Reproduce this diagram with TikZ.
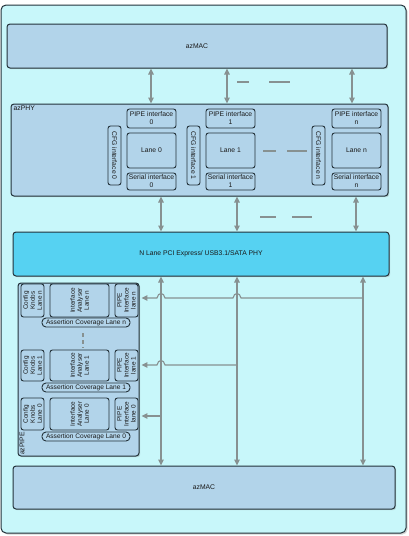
\documentclass[tikz,border=0pt]{standalone}
\usepackage{fontspec}
\setmainfont{Liberation Sans}
\usetikzlibrary{arrows.meta,shadows}
\definecolor{bgc}{RGB}{200,247,250}
\definecolor{macc}{RGB}{178,212,234}
\definecolor{phyc}{RGB}{86,210,242}
\definecolor{edgec}{RGB}{35,50,58}
\definecolor{arrc}{RGB}{135,145,145}
\definecolor{txtc}{RGB}{25,25,25}
\begin{document}
\begin{tikzpicture}[x=1pt,y=-1pt,
  box/.style={draw=edgec, line width=1pt, rounded corners=3pt, fill=macc, inner sep=0pt,
    align=center, text=txtc, font=\fontsize{6.8}{8}\selectfont},
  sbox/.style={box, line width=0.9pt, rounded corners=2.5pt},
  pill/.style={box, line width=0.9pt, rounded corners=4pt, font=\fontsize{6.6}{7}\selectfont},
  rtxt/.style={inner sep=0pt, align=center, text=txtc, font=\fontsize{6.4}{7}\selectfont},
  shd/.style={drop shadow={opacity=0.3, shadow xshift=1.2pt, shadow yshift=-1.2pt}},
  arr/.style={draw=arrc, line width=1.1pt, {Triangle[length=6pt,width=5.5pt]}-{Triangle[length=6pt,width=5.5pt]}},
  harr/.style={draw=arrc, line width=1.1pt, -{Triangle[length=6pt,width=5.5pt]}, shorten >=3pt},
  dsh/.style={draw=arrc, line width=1.1pt},
]
\useasboundingbox (0,0) rectangle (408,536);

% outer frame
\node[draw=edgec, fill=bgc, line width=1pt, rounded corners=5pt, minimum width=405pt, minimum height=528pt,
  drop shadow={opacity=0.35, shadow xshift=1.5pt, shadow yshift=-1.5pt}] (frame) at (203.5,269) {};

% top azMAC
\node[box, shd, minimum width=380pt, minimum height=44pt] (mac1) at (197,46) {azMAC};

% azPHY
\node[box, shd, minimum width=377pt, minimum height=92pt] (azphy) at (199.5,150) {};
\node[anchor=north west, inner sep=0pt, text=txtc, font=\fontsize{6.8}{8}\selectfont] (azphyl) at (13.5,106) {azPHY};

% lane groups in azPHY
\foreach \nm/\cx/\fx/\lab in {0/151.5/114.5/0, 1/230.5/193.5/1, n/356.5/318.5/n}{
  \node[sbox, minimum width=49pt, minimum height=19pt] (pipe\nm) at (\cx,118.5) {PIPE interface\\\lab};
  \node[sbox, minimum width=49pt, minimum height=35pt] (lane\nm) at (\cx,150.5) {Lane \lab};
  \node[sbox, minimum width=49pt, minimum height=17pt] (ser\nm) at (\cx,181.5) {Serial interface\\\lab};
  \node[sbox, minimum width=13pt, minimum height=59pt] (cfg\nm) at (\fx,155.5) {};
  \node[rtxt, rotate=-90, font=\fontsize{6.8}{8}\selectfont] (cfgt\nm) at (cfg\nm) {CFG interface \lab};
}

% PHY
\node[box, shd, fill=phyc, minimum width=376pt, minimum height=44pt] (phy) at (201,254) {N Lane PCI Express/ USB3.1/SATA PHY};

% bottom azMAC
\node[box, shd, minimum width=382pt, minimum height=43pt] (mac2) at (204,487.5) {azMAC};

% azPIPE
\node[box, shd, minimum width=121pt, minimum height=173pt] (azpipe) at (78.5,369.5) {};
\node[rtxt, rotate=90, anchor=north west, font=\fontsize{6.8}{8}\selectfont] (azpipel) at (19.5,455) {azPIPE};

\foreach \nm/\cy/\h/\ay in {n/300.5/33/322.5, 1/365.5/31/387.5, 0/414/32/436.5}{
  \node[sbox, minimum width=23pt, minimum height=\h pt] (ck\nm) at (32.5,\cy) {};
  \node[rtxt, rotate=90] (ckt\nm) at (ck\nm) {Config\\Knobs\\Lane \nm};
  \node[sbox, minimum width=59pt, minimum height=\h pt] (ia\nm) at (79.5,\cy) {};
  \node[rtxt, rotate=90] (iat\nm) at (ia\nm) {Interface\\Analyser\\Lane \nm};
  \node[sbox, minimum width=23pt, minimum height=\h pt] (pp\nm) at (126.5,\cy) {};
  \node[rtxt, rotate=90] (ppt\nm) at (pp\nm) {PIPE\\Interface\\lane \nm};
  \node[pill, minimum width=88pt, minimum height=9pt] (ac\nm) at (86,\ay) {Assertion Coverage Lane \nm};
}
\draw[dsh, dash pattern=on 4pt off 3pt] (acn.south -| 83,0) ++(0,6) -- ++(0,15);

% column coordinates
\coordinate (x1) at (151,0);
\coordinate (x2) at (227,0);
\coordinate (x3) at (352,0);
\coordinate (m1) at (161,0);
\coordinate (m2) at (237,0);
\coordinate (m3) at (356,0);
\coordinate (b1) at (161,0);
\coordinate (b2) at (237,0);
\coordinate (b3) at (363,0);

% top arrows
\draw[arr] (mac1.south -| x1) -- (azphy.north -| x1);
\draw[arr] (mac1.south -| x2) -- (azphy.north -| x2);
\draw[arr] (mac1.south -| x3) -- (azphy.north -| x3);
\draw[dsh] (237,82) -- (249,82);
\draw[dsh] (269,82) -- (290,82);

% dashes between lanes in azPHY
\draw[dsh] (263,151) -- (276,151);
\draw[dsh] (287,151) -- (307,151);

% middle arrows
\draw[arr] (azphy.south -| m1) -- (phy.north -| m1);
\draw[arr] (azphy.south -| m2) -- (phy.north -| m2);
\draw[arr] (azphy.south -| m3) -- (phy.north -| m3);
\draw[dsh] (260,217) -- (276,217);
\draw[dsh] (292,217) -- (312,217);

% bottom arrows
\draw[arr] (phy.south -| b1) -- (mac2.north -| b1);
\draw[arr] (phy.south -| b2) -- (mac2.north -| b2);
\draw[arr] (phy.south -| b3) -- (mac2.north -| b3);

% horizontal feeds into azPIPE
\coordinate (hn) at (363,298);
\coordinate (h1) at (237,365);
\coordinate (h0) at (161,416);
\draw[harr] (hn) -- (241,298) .. controls (240,292) and (234,292) .. (233,298)
  -- (165,298) .. controls (164,292) and (158,292) .. (157,298) -- (ppn.east |- hn);
\draw[harr] (h1) -- (165,365) .. controls (164,359) and (158,359) .. (157,365) -- (pp1.east |- h1);
\draw[harr] (h0) -- (pp0.east |- h0);
\end{tikzpicture}
\end{document}
